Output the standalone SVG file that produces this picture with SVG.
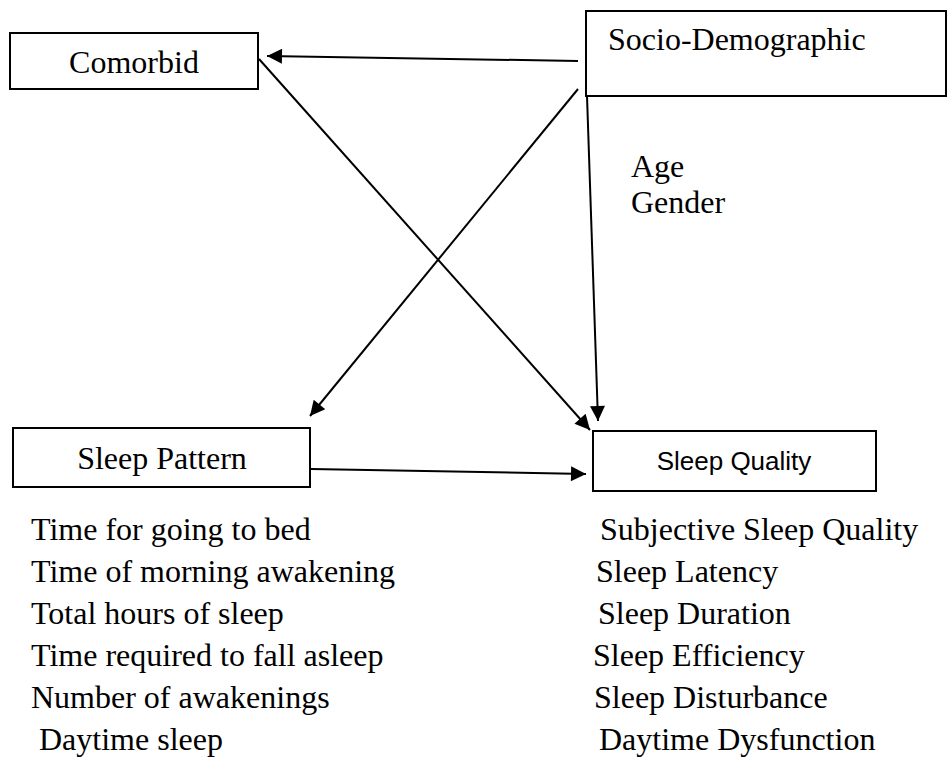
<svg xmlns="http://www.w3.org/2000/svg" width="947" height="758" viewBox="0 0 947 758">
  <style>
    .box { fill: #fff; stroke: #000; stroke-width: 2; }
    .serif { font-family: "Liberation Serif", "Times New Roman", serif; font-size: 32px; fill: #000; }
    .sans { font-family: "Liberation Sans", Arial, sans-serif; font-size: 26px; fill: #000; }
    .conn { stroke: #000; stroke-width: 2; fill: none; marker-end: url(#arrow); }
  </style>
  <defs>
    <marker id="arrow" viewBox="0 0 10 10" refX="10" refY="5" markerWidth="17" markerHeight="15" markerUnits="userSpaceOnUse" orient="auto">
      <path d="M0,0 L10,5 L0,10 z" fill="#000"/>
    </marker>
  </defs>
  <rect width="947" height="758" fill="#fff"/>

  <g id="comorbid">
    <rect class="box" x="10" y="33" width="248" height="56"/>
    <text class="serif" x="134" y="73" text-anchor="middle">Comorbid</text>
  </g>

  <g id="socio-demographic">
    <rect class="box" x="586" y="11" width="360" height="85"/>
    <text class="serif" x="608" y="50">Socio-Demographic</text>
    <text class="serif" x="631" y="177">Age</text>
    <text class="serif" x="631" y="213">Gender</text>
  </g>

  <g id="sleep-pattern">
    <rect class="box" x="13" y="428" width="297" height="59"/>
    <text class="serif" x="162" y="469" text-anchor="middle">Sleep Pattern</text>
    <text class="serif" x="31" y="540">Time for going to bed</text>
    <text class="serif" x="31" y="582">Time of morning awakening</text>
    <text class="serif" x="31" y="624">Total hours of sleep</text>
    <text class="serif" x="31" y="666">Time required to fall asleep</text>
    <text class="serif" x="31" y="708">Number of awakenings</text>
    <text class="serif" x="39" y="750">Daytime sleep</text>
  </g>

  <g id="sleep-quality">
    <rect class="box" x="593" y="431" width="283" height="60"/>
    <text class="sans" x="734" y="470" text-anchor="middle">Sleep Quality</text>
    <text class="serif" x="600" y="540">Subjective Sleep Quality</text>
    <text class="serif" x="596" y="582">Sleep Latency</text>
    <text class="serif" x="598" y="624">Sleep Duration</text>
    <text class="serif" x="593" y="666">Sleep Efficiency</text>
    <text class="serif" x="594" y="708">Sleep Disturbance</text>
    <text class="serif" x="599" y="750">Daytime Dysfunction</text>
  </g>

  <g id="connectors">
    <line class="conn" x1="578" y1="61" x2="267" y2="56"/>
    <line class="conn" x1="259" y1="59" x2="590" y2="430"/>
    <line class="conn" x1="578" y1="89" x2="310" y2="416"/>
    <line class="conn" x1="587" y1="96" x2="598" y2="421"/>
    <line class="conn" x1="311" y1="469" x2="586" y2="474"/>
  </g>
</svg>
